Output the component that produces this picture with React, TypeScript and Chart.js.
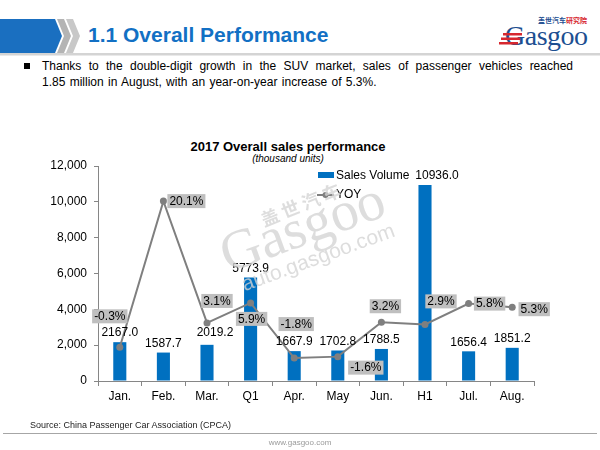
import React, { useEffect, useRef } from "react";
import { Chart, registerables } from "chart.js";

Chart.register(...registerables);

const categories = ["Jan.", "Feb.", "Mar.", "Q1", "Apr.", "May", "Jun.", "H1", "Jul.", "Aug."];
const salesVolume = [2167.0, 1587.7, 2019.2, 5773.9, 1667.9, 1702.8, 1788.5, 10936.0, 1656.4, 1851.2];
const yoyGrowth = [-0.3, 20.1, 3.1, 5.9, -1.8, -1.6, 3.2, 2.9, 5.8, 5.3];
const volumeAxisMax = 12000;
const volumeAxisStep = 2000;
const yoyAxisMin = -5;
const yoyAxisMax = 25;

// label placement (style) relative to each YOY point
const yoyLabelOffsets = [
  [-10, -31],
  [23, 0],
  [10, -22],
  [1, 16],
  [2, -34],
  [28, 11],
  [4, -16],
  [16, -23],
  [21, 0],
  [22, 2],
];
// label placement (style) relative to each bar top
const barLabelOffsets = [
  [0, -9],
  [0, -9],
  [8, -12],
  [0, -9],
  [0, -9],
  [0, -9],
  [0, -9],
  [12, -9],
  [0, -9],
  [0, -9],
];

const FONT = '"Liberation Sans", Arial, Helvetica, sans-serif';
const BAR_COLOR = "#0070C0";
const LINE_COLOR = "#7f7f7f";
const AXIS_COLOR = "#868686";

const labelPlugin = {
  id: "customLabels",
  afterDatasetsDraw(chart: any) {
    const ctx = chart.ctx;
    const barMeta = chart.getDatasetMeta(0);
    const lineMeta = chart.getDatasetMeta(1);
    ctx.save();
    ctx.font = `12px ${FONT}`;
    ctx.textAlign = "center";
    ctx.textBaseline = "middle";
    barMeta.data.forEach((bar: any, i: number) => {
      const [dx, dy] = barLabelOffsets[i];
      ctx.fillStyle = "#000";
      ctx.fillText(salesVolume[i].toFixed(1), bar.x + dx, bar.y + dy);
    });
    lineMeta.data.forEach((pt: any, i: number) => {
      const txt = yoyGrowth[i].toFixed(1) + "%";
      const [dx, dy] = yoyLabelOffsets[i];
      const w = ctx.measureText(txt).width + 4;
      const h = 14;
      const cx = pt.x + dx;
      const cy = pt.y + dy;
      ctx.fillStyle = "#bfbfbf";
      ctx.fillRect(cx - w / 2, cy - h / 2, w, h);
      ctx.fillStyle = "#000";
      ctx.fillText(txt, cx, cy + 0.5);
    });

    // legend inside plot area
    const { left, top } = chart.chartArea;
    const lx = left + 220;
    const ly = top + 6;
    ctx.fillStyle = BAR_COLOR;
    ctx.fillRect(lx, ly, 16, 6);
    ctx.fillStyle = "#000";
    ctx.textAlign = "left";
    ctx.fillText(chart.data.datasets[0].label, lx + 18, ly + 4);
    const yy = ly + 23;
    ctx.strokeStyle = LINE_COLOR;
    ctx.lineWidth = 2;
    ctx.beginPath();
    ctx.moveTo(lx - 1, yy);
    ctx.lineTo(lx + 16, yy);
    ctx.stroke();
    ctx.fillStyle = LINE_COLOR;
    ctx.beginPath();
    ctx.arc(lx + 7.5, yy, 3, 0, Math.PI * 2);
    ctx.fill();
    ctx.fillStyle = "#000";
    ctx.fillText(chart.data.datasets[1].label, lx + 18, yy);
    ctx.restore();
  },
};

function SalesChart() {
  const ref = useRef<HTMLCanvasElement | null>(null);
  useEffect(() => {
    if (!ref.current) return;
    const chart = new Chart(ref.current, {
      type: "bar",
      data: {
        labels: categories,
        datasets: [
          {
            type: "bar",
            label: "Sales Volume",
            data: salesVolume,
            backgroundColor: BAR_COLOR,
            borderWidth: 0,
            barPercentage: 0.3,
            categoryPercentage: 1,
            yAxisID: "y",
            order: 1,
          },
          {
            type: "line",
            label: "YOY",
            data: yoyGrowth,
            borderColor: LINE_COLOR,
            backgroundColor: LINE_COLOR,
            borderWidth: 2,
            pointRadius: 3.5,
            pointBackgroundColor: LINE_COLOR,
            pointBorderColor: LINE_COLOR,
            pointBorderWidth: 0,
            tension: 0,
            yAxisID: "y1",
            order: 0,
          },
        ],
      } as any,
      options: {
        responsive: false,
        animation: false,
        events: [],
        layout: { padding: { top: 36, right: 66, left: 0, bottom: 0 } },
        plugins: {
          legend: { display: false },
          title: { display: false },
          tooltip: { enabled: false },
        },
        scales: {
          x: {
            offset: true,
            grid: {
              display: true,
              drawOnChartArea: false,
              tickLength: 5,
              color: AXIS_COLOR,
              offset: true,
            },
            border: { color: AXIS_COLOR, width: 1 },
            ticks: { font: { family: FONT, size: 12 }, color: "#000", padding: 3 },
            afterFit: (s: any) => {
              s.height = 29;
            },
          },
          y: {
            min: 0,
            max: volumeAxisMax,
            ticks: {
              stepSize: volumeAxisStep,
              font: { family: FONT, size: 12 },
              color: "#000",
              padding: 7,
              callback: (v: any) => Number(v).toLocaleString("en-US"),
            },
            grid: {
              display: true,
              drawOnChartArea: false,
              tickLength: 4,
              color: AXIS_COLOR,
            },
            border: { color: AXIS_COLOR, width: 1 },
            afterFit: (s: any) => {
              s.width = 98;
            },
          },
          y1: {
            display: false,
            position: "right",
            min: yoyAxisMin,
            max: yoyAxisMax,
          },
        },
      } as any,
      plugins: [labelPlugin],
    });
    return () => chart.destroy();
  }, []);
  return (
    <canvas
      ref={ref}
      width={600}
      height={280}
      style={{ position: "absolute", left: 0, top: 130, width: 600, height: 280 }}
    />
  );
}

export default function App() {
  const wm = "rgba(212,212,212,0.78)";
  return (
    <div
      style={{
        position: "fixed",
        left: 0,
        top: 0,
        width: 600,
        height: 450,
        background: "#fff",
        overflow: "hidden",
        fontFamily: FONT,
      }}
    >
      <svg width={600} height={60} style={{ position: "absolute", left: 0, top: 0 }}>
        <polygon points="0,19 55,19 62,36 55,53 0,53" fill="#1a6fc0" />
        <polygon points="57,19 64,19 71,36 64,53 57,53 64,36" fill="#b4b4b4" />
        <polygon points="66,19 73,19 80,36 73,53 66,53 73,36" fill="#c8c8c8" />
        <rect x={0} y={53} width={600} height={2.5} fill="#d4d4d4" />
      </svg>
      <div
        style={{
          position: "absolute",
          left: 88,
          top: 23,
          fontSize: 21,
          lineHeight: "24px",
          fontWeight: "bold",
          color: "#1270c4",
          whiteSpace: "nowrap",
        }}
      >
        1.1 Overall Performance
      </div>
      <div
        style={{
          position: "absolute",
          left: 538,
          top: 16,
          fontSize: 7,
          lineHeight: "8px",
          fontWeight: "bold",
          fontFamily: '"Noto Sans CJK SC", sans-serif',
          whiteSpace: "nowrap",
        }}
      >
        <span style={{ color: "#1d4f91" }}>盖世汽车</span>
        <span style={{ color: "#d7282f" }}>研究院</span>
      </div>
      <div
        style={{
          position: "absolute",
          left: 505,
          top: 21,
          fontSize: 28,
          lineHeight: "30px",
          letterSpacing: -0.5,
          fontFamily: '"Liberation Serif", "DejaVu Serif", serif',
          color: "#1d4f91",
          whiteSpace: "nowrap",
        }}
      >
        Gasgoo
      </div>
      <svg width={600} height={60} style={{ position: "absolute", left: 0, top: 0 }}>
        <rect x={503} y={33} width={19} height={2.5} fill="#d7282f" />
        <rect x={501} y={37.5} width={19} height={2.5} fill="#d7282f" />
        <rect x={499} y={42} width={19} height={2.5} fill="#d7282f" />
      </svg>

      <div
        style={{
          position: "absolute",
          left: 24,
          top: 63,
          width: 6,
          height: 6,
          background: "#000",
        }}
      />
      <div
        style={{
          position: "absolute",
          left: 42,
          top: 59,
          width: 531,
          fontSize: 12,
          lineHeight: "15.6px",
          color: "#000",
          textAlign: "justify",
          textAlignLast: "justify",
          whiteSpace: "nowrap",
        }}
      >
        Thanks to the double-digit growth in the SUV market, sales of passenger vehicles reached
      </div>
      <div
        style={{
          position: "absolute",
          left: 42,
          top: 74.6,
          fontSize: 12,
          lineHeight: "15.6px",
          color: "#000",
          whiteSpace: "nowrap",
          wordSpacing: 1,
        }}
      >
        1.85 million in August, with an year-on-year increase of 5.3%.
      </div>

      <div
        style={{
          position: "absolute",
          left: 288,
          top: 138.5,
          transform: "translateX(-50%)",
          fontSize: 13,
          lineHeight: "15px",
          fontWeight: "bold",
          whiteSpace: "nowrap",
          color: "#000",
        }}
      >
        2017 Overall sales performance
      </div>
      <div
        style={{
          position: "absolute",
          left: 288,
          top: 153,
          transform: "translateX(-50%)",
          fontSize: 10,
          lineHeight: "12px",
          fontStyle: "italic",
          whiteSpace: "nowrap",
          color: "#000",
        }}
      >
        (thousand units)
      </div>

      <SalesChart />

      {/* watermark */}
      <div style={{ position: "absolute", left: 0, top: 0, width: 600, height: 450, pointerEvents: "none" }}>
        <div
          style={{
            position: "absolute",
            left: 302,
            top: 203,
            transform: "translate(-50%,-50%) rotate(-22deg)",
            fontSize: 18,
            fontWeight: "bold",
            letterSpacing: 4,
            fontFamily: '"Noto Sans CJK SC", sans-serif',
            color: wm,
            whiteSpace: "nowrap",
          }}
        >
          盖世汽车
        </div>
        <div
          style={{
            position: "absolute",
            left: 302,
            top: 226,
            transform: "translate(-50%,-50%) rotate(-20deg)",
            fontSize: 56,
            lineHeight: "56px",
            fontFamily: '"Liberation Serif", "DejaVu Serif", serif',
            color: wm,
            whiteSpace: "nowrap",
          }}
        >
          Gasgoo
        </div>
        <div
          style={{
            position: "absolute",
            left: 318,
            top: 257,
            transform: "translate(-50%,-50%) rotate(-20deg)",
            fontSize: 21,
            lineHeight: "22px",
            color: wm,
            whiteSpace: "nowrap",
          }}
        >
          auto.gasgoo.com
        </div>
      </div>

      <div
        style={{
          position: "absolute",
          left: 30,
          top: 419.5,
          fontSize: 9,
          lineHeight: "11px",
          color: "#222",
          whiteSpace: "nowrap",
        }}
      >
        Source: China Passenger Car Association (CPCA)
      </div>
      <div style={{ position: "absolute", left: 3, top: 432.5, width: 594, height: 1.5, background: "#a6a6a6" }} />
      <div
        style={{
          position: "absolute",
          left: 300,
          top: 438,
          transform: "translateX(-50%)",
          fontSize: 8,
          lineHeight: "10px",
          color: "#9a9a9a",
          whiteSpace: "nowrap",
        }}
      >
        www.gasgoo.com
      </div>
    </div>
  );
}
